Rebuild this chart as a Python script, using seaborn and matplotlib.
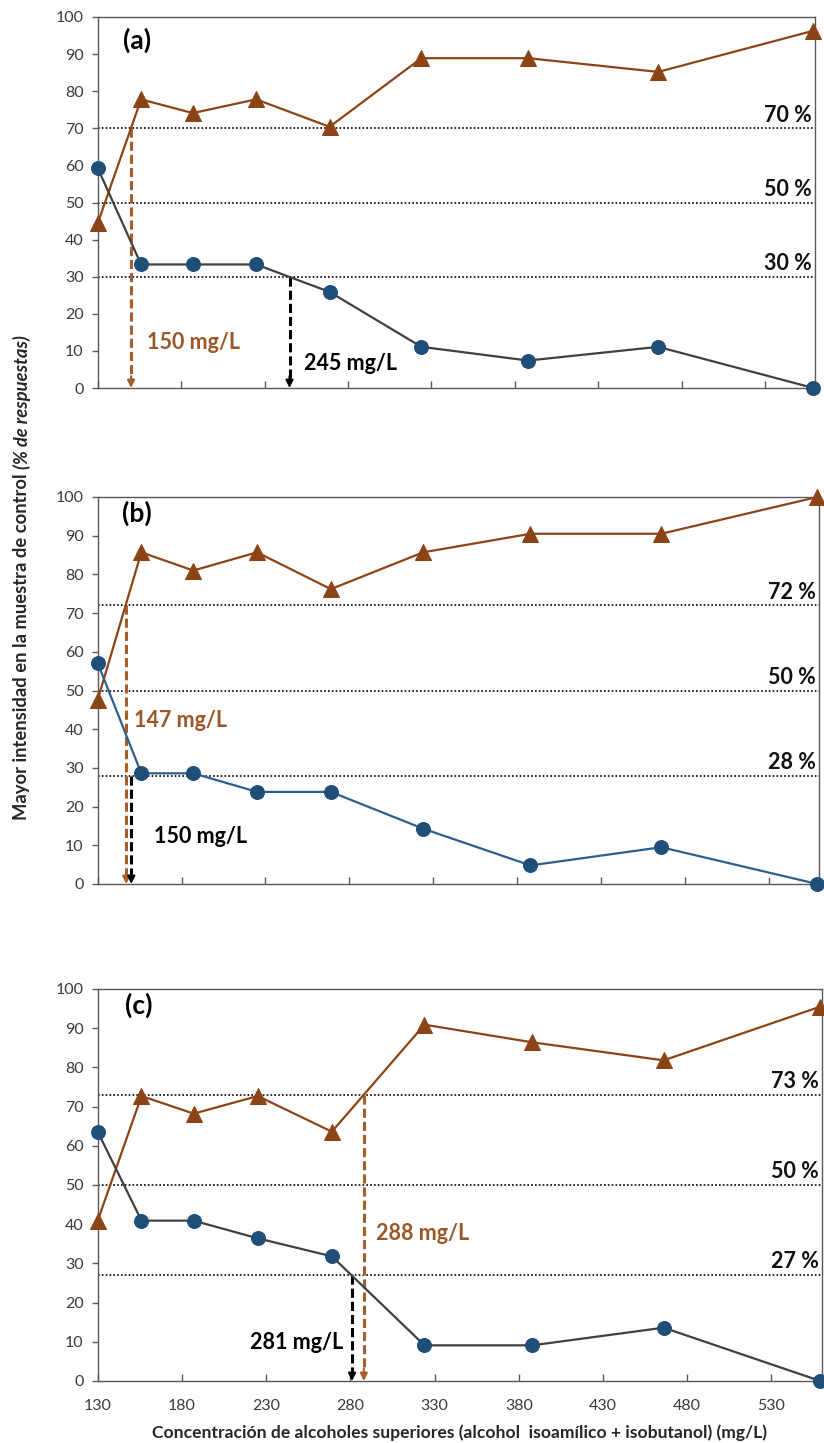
import matplotlib
matplotlib.use("Agg")
import matplotlib.pyplot as plt
import pandas as pd
import seaborn as sns

# Higher alcohol concentration (isoamyl + isobutanol), mg/L
conc = [130, 156, 187, 225, 269, 324, 388, 466, 559]

# Percent of responses per panel: triangles (brown) and circles (blue)
tri_a = [44.4, 77.8, 74.1, 77.8, 70.4, 88.9, 88.9, 85.2, 96.3]
circ_a = [59.3, 33.3, 33.3, 33.3, 25.9, 11.1, 7.4, 11.1, 0.0]
tri_b = [47.6, 85.7, 81.0, 85.7, 76.2, 85.7, 90.5, 90.5, 100.0]
circ_b = [57.1, 28.6, 28.6, 23.8, 23.8, 14.3, 4.8, 9.5, 0.0]
tri_c = [40.9, 72.7, 68.2, 72.7, 63.6, 90.9, 86.4, 81.8, 95.5]
circ_c = [63.6, 40.9, 40.9, 36.4, 31.8, 9.1, 9.1, 13.6, 0.0]

# Reference levels (%) per panel: upper, middle, lower
levels_a = [70, 50, 30]
levels_b = [72, 50, 28]
levels_c = [73, 50, 27]

# Threshold concentrations (mg/L): from upper level (brown), from lower level (black)
thr_up = [150, 147, 288]
thr_low = [245, 150, 281]

panel_tags = ["(a)", "(b)", "(c)"]
x_ticks = [130, 180, 230, 280, 330, 380, 430, 480, 530]
y_ticks = [0, 10, 20, 30, 40, 50, 60, 70, 80, 90, 100]

sns.set_theme(style="white")
plt.rcParams["font.family"] = ["Lato", "DejaVu Sans"]

BROWN = "#8C4416"
BROWN_ARROW = "#A55E2C"
BROWN_TEXT = "#9A5727"
BLUE = "#1F4E79"
GRAY_LINE = "#404040"
BLUE_LINE = "#2E5F8C"
SPINE = "#595959"
TICK_TXT = "#3A3A3A"

W, H = 824, 1443
fig = plt.figure(figsize=(W / 100, H / 100), dpi=100)

# axes boxes in pixels: left, top, right, bottom
boxes = [(97.7, 17, 815, 388), (97.7, 497, 819, 884), (97.7, 989, 822, 1381)]

panels = [
    (tri_a, circ_a, levels_a, GRAY_LINE),
    (tri_b, circ_b, levels_b, BLUE_LINE),
    (tri_c, circ_c, levels_c, GRAY_LINE),
]

# label placements (data coords) for threshold texts
up_text_pos = [(159.5, 12.2, "left"), (151.8, 42.2, "left"), (295, 37.7, "left")]
low_text_pos = [(253.5, 6.7, "left"), (163.6, 12.4, "left"), (276, 9.9, "right")]
tag_pos = [(145, 93.6), (144.3, 95.8), (146, 95.9)]

for i, ((tri, circ, levels, circ_line), box) in enumerate(zip(panels, boxes)):
    l, t, r, b = box
    ax = fig.add_axes([l / W, 1 - b / H, (r - l) / W, (b - t) / H])
    df = pd.DataFrame({"conc": conc, "tri": tri, "circ": circ})

    for lv in levels:
        ax.axhline(lv, color="black", lw=1.2, ls=(0, (1, 1.3)), zorder=1)
        ax.annotate(f"{lv} %", xy=(0.996, lv), xycoords=ax.get_yaxis_transform(),
                    xytext=(0, 2), textcoords="offset points",
                    ha="right", va="bottom", fontsize=15.5, fontweight="bold",
                    color="#111111")

    # dashed threshold arrows
    for xv, y0, col in [(thr_up[i], levels[0], BROWN_ARROW), (thr_low[i], levels[2], "black")]:
        ax.plot([xv, xv], [y0, 2.5], color=col, lw=2.2, ls=(0, (3, 1.3)),
                zorder=2, solid_capstyle="butt", dash_capstyle="butt")
        ax.annotate("", xy=(xv, 0), xytext=(xv, 3.2),
                    arrowprops=dict(arrowstyle="-|>", color=col, lw=1.5,
                                    mutation_scale=11, shrinkA=0, shrinkB=0),
                    zorder=2)

    sns.lineplot(data=df, x="conc", y="tri", ax=ax, color=BROWN, lw=1.6,
                 marker="^", markersize=11, markeredgecolor=BROWN,
                 markerfacecolor=BROWN, sort=False, estimator=None,
                 clip_on=False, zorder=4)
    sns.lineplot(data=df, x="conc", y="circ", ax=ax, color=circ_line, lw=1.6,
                 marker="o", markersize=10, markeredgecolor=BLUE,
                 markerfacecolor=BLUE, sort=False, estimator=None,
                 clip_on=False, zorder=4)

    ux, uy, uha = up_text_pos[i]
    ax.text(ux, uy, f"{thr_up[i]} mg/L", color=BROWN_TEXT, fontsize=15.5,
            fontweight="bold", ha=uha, va="center", zorder=5)
    lx, ly, lha = low_text_pos[i]
    ax.text(lx, ly, f"{thr_low[i]} mg/L", color="black", fontsize=15.5,
            fontweight="bold", ha=lha, va="center", zorder=5)
    ax.text(tag_pos[i][0], tag_pos[i][1], panel_tags[i], fontsize=19,
            fontweight="bold", ha="left", va="center", color="black")

    ax.set_xlim(130, 560)
    ax.set_ylim(0, 100)
    ax.set_xticks(x_ticks)
    ax.set_yticks(y_ticks)
    ax.set_xlabel("")
    ax.set_ylabel("")
    ax.tick_params(axis="y", direction="out", length=4, width=1, color=SPINE,
                   labelsize=11.5, labelcolor=TICK_TXT, pad=6, left=True)
    ax.tick_params(axis="x", direction="in", length=5, width=1, color=SPINE,
                   labelsize=11.5, labelcolor=TICK_TXT, pad=13, bottom=True)
    if i < 2:
        ax.set_xticklabels([])
    for s in ax.spines.values():
        s.set_color(SPINE)
        s.set_linewidth(1.0)
        s.set_visible(True)

fig.text(460 / W, 1 - 1433 / H,
         "Concentración de alcoholes superiores (alcohol  isoamílico + isobutanol) (mg/L)",
         ha="center", va="center", fontsize=12.6, fontweight="bold")

ylab = fig.text(22 / W, 1 - 820 / H, "Mayor intensidad en la muestra de control ",
                rotation=90, ha="center", va="bottom", fontsize=13.2, fontweight="bold")
fig.canvas.draw()
fig.add_artist(plt.Annotation("(% de respuestas)", xy=(0.5, 1), xycoords=ylab,
                              rotation=90, ha="center", va="bottom", fontsize=13.2,
                              fontweight="bold", fontstyle="italic"))

fig.savefig("out.png", dpi=100)
